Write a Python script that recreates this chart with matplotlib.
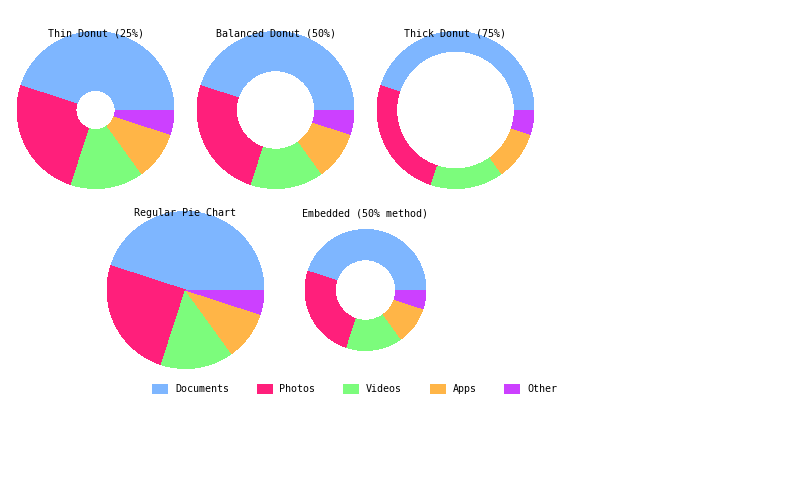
import matplotlib.pyplot as plt
from matplotlib.patches import Patch

# 数据
labels = ['Documents', 'Photos', 'Videos', 'Apps', 'Other']
values = [45, 25, 15, 10, 5]
colors = ['#7eb6ff', '#ff1f7b', '#7cfc7c', '#ffb547', '#cc40ff']

titles = ['Thin Donut (25%)', 'Balanced Donut (50%)', 'Thick Donut (75%)',
          'Regular Pie Chart', 'Embedded (50% method)']
hole_ratio = [0.25, 0.5, 0.75, 0.0, 0.5]

# 像素坐标 (x, y from top), 半径
centers = [(95.5, 110), (275.5, 110), (455.5, 110), (185.5, 290), (365.5, 290)]
radii = [78.5, 78.5, 78.5, 78.5, 60.5]
title_y = [33, 33, 33, 213, 213]

plt.rcParams['font.family'] = ['DejaVu Sans Mono']
fs = 7.2

fig = plt.figure(figsize=(8, 4.8), dpi=100)
ax = fig.add_axes([0, 0, 1, 1])
H = 480

for i in range(len(titles)):
    cx, cy = centers[i]
    r = radii[i]
    wp = dict(linewidth=0, antialiased=False)
    if hole_ratio[i] > 0:
        wp['width'] = r * (1 - hole_ratio[i])
    ax.pie(values, colors=colors, startangle=0, counterclock=True,
           center=(cx, H - cy), radius=r, wedgeprops=wp, frame=True)
    ax.text(cx, H - title_y[i], titles[i], ha='center', va='center', fontsize=fs)

ax.set_xlim(0, 800)
ax.set_ylim(0, 480)
ax.set_aspect('equal')
ax.axis('off')

handles = [Patch(facecolor=c, edgecolor='none', linewidth=0) for c in colors]
fig.legend(handles, labels, ncol=5, frameon=False, fontsize=fs,
           loc='upper left', bbox_to_anchor=(152 / 800, 1 - 384 / 480),
           borderpad=0, borderaxespad=0, handlelength=1.6, handleheight=1.2,
           handletextpad=0.7, columnspacing=2.75)

plt.savefig('out.png', dpi=100)
